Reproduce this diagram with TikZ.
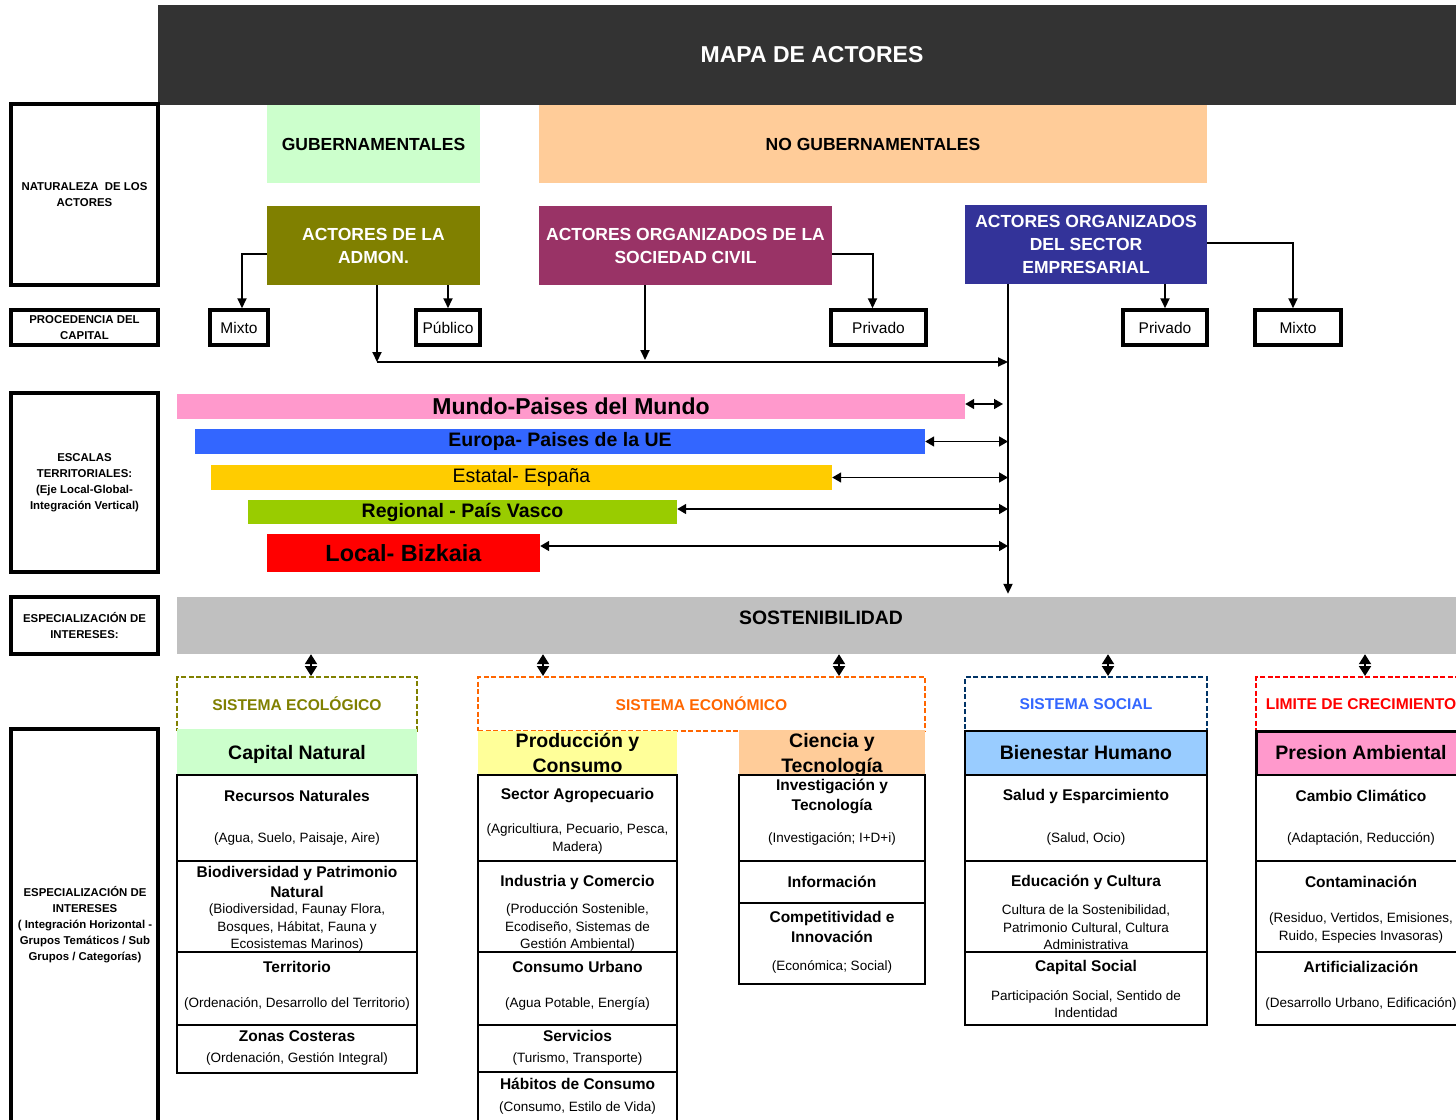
\documentclass[tikz,border=0pt]{standalone}
\usepackage{fontspec}
\setmainfont{Liberation Sans}
\usetikzlibrary{arrows.meta}

\definecolor{cabecera}{HTML}{333333}
\definecolor{verdeclaro}{HTML}{CCFFCC}
\definecolor{naranjaclaro}{HTML}{FFCC99}
\definecolor{oliva}{HTML}{808000}
\definecolor{granate}{HTML}{993366}
\definecolor{indigo}{HTML}{333399}
\definecolor{rosa}{HTML}{FF99CC}
\definecolor{azul}{HTML}{3366FF}
\definecolor{oro}{HTML}{FFCC00}
\definecolor{lima}{HTML}{99CC00}
\definecolor{gris}{HTML}{C0C0C0}
\definecolor{naranja}{HTML}{FF6600}
\definecolor{marino}{HTML}{003366}
\definecolor{amarillo}{HTML}{FFFF99}
\definecolor{celeste}{HTML}{99CCFF}

\tikzset{
  lblbox/.style={draw, line width=3.5, align=center, inner sep=0, font=\bfseries\fontsize{11.4}{16}\selectfont},
  capbox/.style={draw, line width=3.5, inner sep=0, font=\fontsize{15.5}{18}\selectfont},
  actorbox/.style={inner sep=0, align=center, text=white, font=\bfseries\fontsize{17.5}{23}\selectfont},
  scalebar/.style={inner sep=0, align=center},
  sysbox/.style={draw, dash pattern=on 5pt off 2.5pt, line width=2, inner sep=0, font=\bfseries\fontsize{15.6}{18}\selectfont},
  catbox/.style={inner sep=0, align=center, font=\bfseries\fontsize{19.5}{25}\selectfont},
  itembox/.style={draw, fill=white, line width=2.5, inner sep=0},
  ittitle/.style={inner sep=0, align=center, font=\bfseries\fontsize{15.5}{20}\selectfont},
  itsub/.style={inner sep=0, align=center, font=\fontsize{13.5}{17.5}\selectfont},
  conn/.style={line width=2, -{Triangle[length=10,width=9]}},
  dconn/.style={line width=1.6, {Triangle[length=9,width=10]}-{Triangle[length=9,width=10]}},
  vdconn/.style={line width=2, {Triangle[length=10,width=12]}-{Triangle[length=10,width=12]}}
}

\begin{document}
\begin{tikzpicture}[x=1pt,y=-1pt]
  \useasboundingbox (0,0) rectangle (1456,1119);

  % cabecera
  \node[fill=cabecera, minimum width=1308, minimum height=100, inner sep=0,
        text=white, font=\bfseries\fontsize{23}{26}\selectfont] (head) at (812,55) {MAPA DE ACTORES};

  % columna izquierda
  \node[lblbox, minimum width=147, minimum height=181] (natur) at (84.5,194.5) {NATURALEZA \ DE LOS\\ACTORES};
  \node[lblbox, minimum width=147, minimum height=35] (proc) at (84.5,327.5) {PROCEDENCIA DEL\\CAPITAL};
  \node[lblbox, minimum width=147, minimum height=179] (escal) at (84.5,482.5) {ESCALAS\\TERRITORIALES:\\(Eje Local-Global-\\Integración Vertical)};
  \node[lblbox, minimum width=147, minimum height=57] (espa) at (84.5,625.5) {ESPECIALIZACIÓN DE\\INTERESES:};
  \node[lblbox, minimum width=147, minimum height=401] (espb) at (84.5,929.5) {};
  \node[lblbox, draw=none] (espbt) at (85,925) {ESPECIALIZACIÓN DE\\INTERESES\\( Integración Horizontal -\\Grupos Temáticos / Sub\\Grupos / Categorías)};

  % naturaleza de los actores
  \node[fill=verdeclaro, minimum width=213, minimum height=78, inner sep=0,
        font=\bfseries\fontsize{17.5}{20}\selectfont] (gub) at (373.5,144) {GUBERNAMENTALES};
  \node[fill=naranjaclaro, minimum width=668, minimum height=78, inner sep=0,
        font=\bfseries\fontsize{17.5}{20}\selectfont] (nogub) at (873,144) {NO GUBERNAMENTALES};
  \node[actorbox, fill=oliva, minimum width=213, minimum height=79] (admon) at (373.5,245.5) {ACTORES DE LA\\ADMON.};
  \node[actorbox, fill=granate, minimum width=293, minimum height=79] (socied) at (685.5,245.5) {ACTORES ORGANIZADOS DE LA\\SOCIEDAD CIVIL};
  \node[actorbox, fill=indigo, minimum width=242, minimum height=79] (empres) at (1086,244) {ACTORES ORGANIZADOS\\DEL SECTOR\\EMPRESARIAL};

  % procedencia del capital
  \node[capbox, minimum width=58, minimum height=35] (mixa) at (239,327.5) {Mixto};
  \node[capbox, minimum width=64, minimum height=35] (pub) at (448,327.5) {Público};
  \node[capbox, minimum width=95, minimum height=35] (priva) at (878.5,327.5) {Privado};
  \node[capbox, minimum width=84, minimum height=35] (privb) at (1165,327.5) {Privado};
  \node[capbox, minimum width=86, minimum height=35] (mixb) at (1298,327.5) {Mixto};

  \draw[conn] ([yshift=-8.5]admon.west) -| ([xshift=3]mixa.north);
  \draw[conn] (admon.south -| pub.north) -- (pub.north);
  \draw[conn] ([yshift=-8.5]socied.east) -| ([xshift=-6]priva.north);
  \draw[conn] (empres.south -| privb.north) -- (privb.north);
  \draw[conn] ([yshift=1]empres.east) -| ([xshift=-5]mixb.north);

  % escalas territoriales
  \node[scalebar, fill=rosa, minimum width=788, minimum height=25,
        font=\bfseries\fontsize{23}{25}\selectfont] (mundo) at (571,406.5) {Mundo-Paises del Mundo};
  \node[scalebar, fill=azul, minimum width=730, minimum height=25,
        font=\bfseries\fontsize{19.5}{22}\selectfont] (europa) at (560,441.5) {Europa- Paises de la UE};
  \node[scalebar, fill=oro, minimum width=621, minimum height=25,
        font=\fontsize{19.5}{22}\selectfont] (estatal) at (521.5,477.5) {Estatal- España};
  \node[scalebar, fill=lima, minimum width=429, minimum height=24,
        font=\bfseries\fontsize{19.5}{22}\selectfont] (regional) at (462.5,512) {Regional - País Vasco};
  \node[scalebar, fill=red, minimum width=273, minimum height=38,
        font=\bfseries\fontsize{23.4}{26}\selectfont] (local) at (403.5,553) {Local- Bizkaia};

  % sostenibilidad
  \node[fill=gris, minimum width=1289, minimum height=57, inner sep=0] (sosten) at (821.5,625.5) {};
  \node[inner sep=0, font=\bfseries\fontsize{19.4}{22}\selectfont] (sostt) at (821,618) {SOSTENIBILIDAD};

  % conectores de actores y escalas
  \coordinate (hub) at (1008,362);
  \coordinate (ja) at (377,362);
  \coordinate (jb) at (645,360);
  \coordinate (mend) at (1003,0);
  \draw[conn] (admon.south -| ja) -- (ja);
  \draw[conn] (socied.south -| jb) -- (jb);
  \draw[conn] (ja) -- (hub);
  \draw[conn] (empres.south -| hub) -- ([yshift=3]sosten.north -| hub);
  \draw[dconn] ([yshift=2.5]mundo.east) -- ([yshift=2.5]mundo.east -| mend);
  \draw[dconn] (europa.east) -- (europa.east -| hub);
  \draw[dconn] (estatal.east) -- (estatal.east -| hub);
  \draw[dconn] ([yshift=3]regional.east) -- ([yshift=3]regional.east -| hub);
  \draw[dconn] ([yshift=7]local.east) -- ([yshift=7]local.east -| hub);

  % sistemas
  \node[sysbox, draw=oliva, text=oliva, minimum width=240, minimum height=54] (ecol) at (297,704) {SISTEMA ECOLÓGICO};
  \node[sysbox, draw=naranja, text=naranja, minimum width=447, minimum height=54] (econ) at (701.5,704) {SISTEMA ECONÓMICO};
  \node[sysbox, draw=marino, text=azul, minimum width=242, minimum height=54] (social) at (1086,704) {SISTEMA SOCIAL};
  \node[sysbox, draw=red, text=red, minimum width=210, minimum height=54] (limite) at (1361,704) {LIMITE DE CRECIMIENTO};

  \coordinate (ka) at (311,0);
  \coordinate (kb) at (543,0);
  \coordinate (kc) at (839,0);
  \coordinate (kd) at (1108,0);
  \coordinate (ke) at (1365,0);
  \draw[vdconn] (sosten.south -| ka) -- (ecol.north -| ka);
  \draw[vdconn] (sosten.south -| kb) -- (econ.north -| kb);
  \draw[vdconn] (sosten.south -| kc) -- (econ.north -| kc);
  \draw[vdconn] (sosten.south -| kd) -- (social.north -| kd);
  \draw[vdconn] (sosten.south -| ke) -- (limite.north -| ke);

  % categorias
  \node[catbox, fill=verdeclaro, minimum width=240, minimum height=50] (capnat) at (297,754) {Capital Natural};
  \node[catbox, fill=amarillo, minimum width=199, minimum height=44] (prod) at (577.5,753) {Producción y\\Consumo};
  \node[catbox, fill=naranjaclaro, minimum width=186, minimum height=50] (cien) at (832,754.5) {Ciencia y\\Tecnología};
  \node[catbox, fill=celeste, draw, line width=2.5, minimum width=242, minimum height=44] (bien) at (1086,753) {Bienestar Humano};
  \node[catbox, fill=rosa, draw, line width=3, minimum width=210, minimum height=44] (pres) at (1361,753) {Presion Ambiental};

  % sistema ecologico
  \node[itembox, minimum width=240, minimum height=86] (rec) at (297,818) {};
  \node[ittitle] (rect) at (297,796) {Recursos Naturales};
  \node[itsub] (recs) at (297,839) {(Agua, Suelo, Paisaje, Aire)};
  \node[itembox, minimum width=240, minimum height=91] (bio) at (297,906.5) {};
  \node[ittitle] (biot) at (297,881.5) {Biodiversidad y Patrimonio\\Natural};
  \node[itsub] (bios) at (297,927.5) {(Biodiversidad, Faunay Flora,\\Bosques, Hábitat, Fauna y\\Ecosistemas Marinos)};
  \node[itembox, minimum width=240, minimum height=73] (terr) at (297,988.5) {};
  \node[ittitle] (terrt) at (297,967) {Territorio};
  \node[itsub] (terrs) at (297,1004) {(Ordenación, Desarrollo del Territorio)};
  \node[itembox, minimum width=240, minimum height=48] (zon) at (297,1049) {};
  \node[ittitle] (zont) at (297,1036) {Zonas Costeras};
  \node[itsub] (zons) at (297,1059) {(Ordenación, Gestión Integral)};

  % produccion y consumo
  \node[itembox, minimum width=199, minimum height=86] (agro) at (577.5,818) {};
  \node[ittitle] (agrot) at (577.5,796) {Sector Agropecuario};
  \node[itsub] (agros) at (577.5,839) {(Agricultiura, Pecuario, Pesca,\\Madera)};
  \node[itembox, minimum width=199, minimum height=91] (ind) at (577.5,906.5) {};
  \node[ittitle] (indt) at (577.5,882) {Industria y Comercio};
  \node[itsub] (inds) at (577.5,927.5) {(Producción Sostenible,\\Ecodiseño, Sistemas de\\Gestión Ambiental)};
  \node[itembox, minimum width=199, minimum height=73] (curb) at (577.5,988.5) {};
  \node[ittitle] (curbt) at (577.5,967) {Consumo Urbano};
  \node[itsub] (curbs) at (577.5,1004) {(Agua Potable, Energía)};
  \node[itembox, minimum width=199, minimum height=47] (serv) at (577.5,1048.5) {};
  \node[ittitle] (servt) at (577.5,1036) {Servicios};
  \node[itsub] (servs) at (577.5,1059) {(Turismo, Transporte)};
  \node[itembox, minimum width=199, minimum height=60] (hab) at (577.5,1102) {};
  \node[ittitle] (habt) at (577.5,1084) {Hábitos de Consumo};
  \node[itsub] (habs) at (577.5,1108) {(Consumo, Estilo de Vida)};

  % ciencia y tecnologia
  \node[itembox, minimum width=186, minimum height=86] (inv) at (832,818) {};
  \node[ittitle] (invt) at (832,796) {Investigación y\\Tecnología};
  \node[itsub] (invs) at (832,839) {(Investigación; I+D+i)};
  \node[itembox, minimum width=186, minimum height=42] (info) at (832,882) {};
  \node[ittitle] (infot) at (832,882) {Información};
  \node[itembox, minimum width=186, minimum height=81] (comp) at (832,943.5) {};
  \node[ittitle] (compt) at (832,927) {Competitividad e\\Innovación};
  \node[itsub] (comps) at (832,967) {(Económica; Social)};

  % sistema social
  \node[itembox, minimum width=242, minimum height=86] (salud) at (1086,818) {};
  \node[ittitle] (saludt) at (1086,796) {Salud y Esparcimiento};
  \node[itsub] (saluds) at (1086,839) {(Salud, Ocio)};
  \node[itembox, minimum width=242, minimum height=91] (edu) at (1086,906.5) {};
  \node[ittitle] (edut) at (1086,882) {Educación y Cultura};
  \node[itsub] (edus) at (1086,927.5) {Cultura de la Sostenibilidad,\\Patrimonio Cultural, Cultura\\Administrativa};
  \node[itembox, minimum width=242, minimum height=73] (csoc) at (1086,988.5) {};
  \node[ittitle] (csoct) at (1086,967) {Capital Social};
  \node[itsub] (csocs) at (1086,1004) {Participación Social, Sentido de\\Indentidad};

  % limite de crecimiento
  \node[itembox, minimum width=210, minimum height=86] (camb) at (1361,818) {};
  \node[ittitle] (cambt) at (1361,796) {Cambio Climático};
  \node[itsub] (cambs) at (1361,839) {(Adaptación, Reducción)};
  \node[itembox, minimum width=210, minimum height=91] (cont) at (1361,906.5) {};
  \node[ittitle] (contt) at (1361,882) {Contaminación};
  \node[itsub] (conts) at (1361,928) {(Residuo, Vertidos, Emisiones,\\Ruido, Especies Invasoras)};
  \node[itembox, minimum width=210, minimum height=73] (art) at (1361,988.5) {};
  \node[ittitle] (artt) at (1361,967) {Artificialización};
  \node[itsub] (arts) at (1361,1004) {(Desarrollo Urbano, Edificación)};
\end{tikzpicture}
\end{document}
